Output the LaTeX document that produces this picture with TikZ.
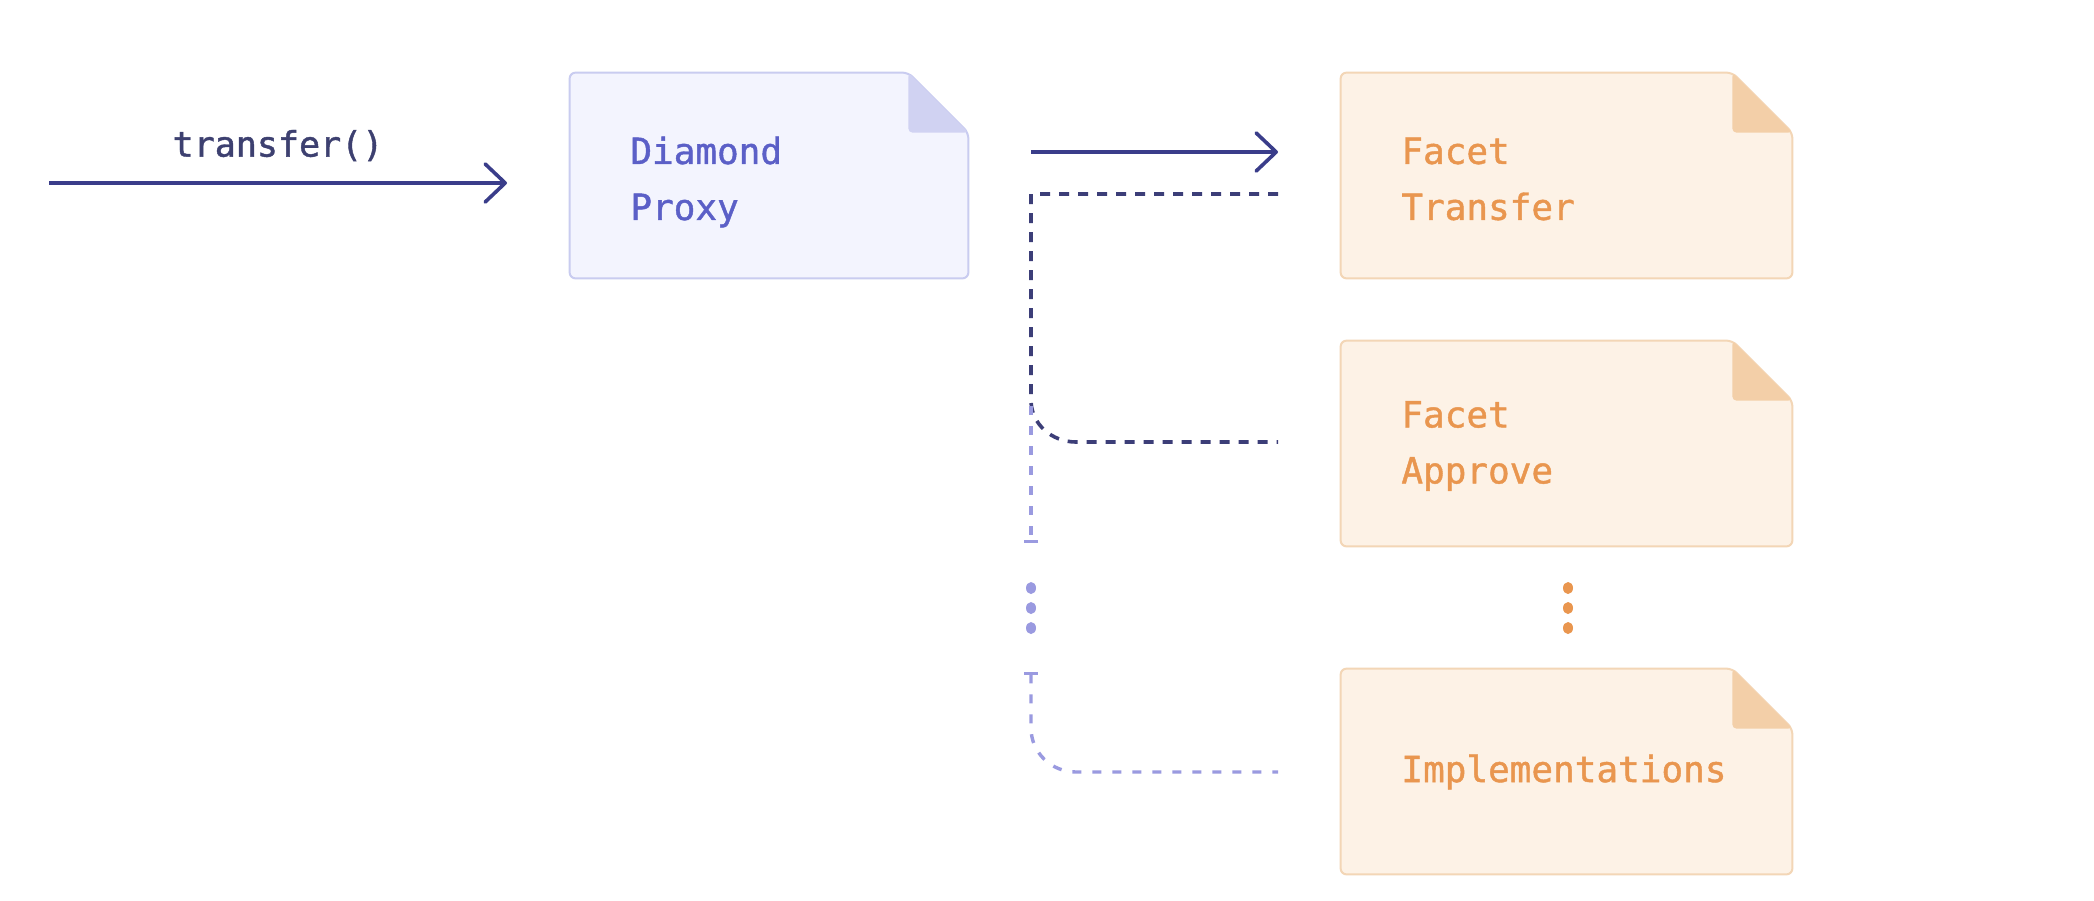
\documentclass[tikz,border=0pt]{standalone}
\usepackage{fontspec}
\newfontfamily\mfont{DejaVu Sans Mono}[FakeBold=1.2]
\usetikzlibrary{arrows.meta,calc,shapes.geometric}
\definecolor{navy}{HTML}{3A3D8A}
\definecolor{darkdash}{HTML}{3C3E78}
\definecolor{lightdash}{HTML}{9A9AE0}
\definecolor{dtext}{HTML}{5B5FC7}
\definecolor{dfill}{HTML}{F3F4FE}
\definecolor{dborder}{HTML}{C9CCF0}
\definecolor{dfold}{HTML}{D0D2F2}
\definecolor{ffill}{HTML}{FDF2E6}
\definecolor{fborder}{HTML}{F3D6B6}
\definecolor{ffold}{HTML}{F3CFA8}
\definecolor{otext}{HTML}{E9964F}
\definecolor{ttext}{HTML}{3D4070}
\tikzset{
  boxnode/.style={rectangle, draw=none, minimum width=#1, minimum height=102.5pt, inner sep=0pt},
  lbl/.style={font=\mfont\fontsize{18pt}{28pt}\selectfont, align=left, anchor=west, inner sep=0pt},
  solidarrow/.style={draw=navy, line width=1.8pt, -{Straight Barb[length=10pt,width=19pt,line width=1.8pt,round]}},
  darkdashed/.style={draw=darkdash, line width=1.8pt, dash pattern=on 5pt off 4.5pt},
  lightdashed/.style={draw=lightdash, line width=1.7pt, dash pattern=on 4.5pt off 5.5pt},
  dotstyle/.style={ellipse, inner sep=0pt, minimum width=5pt, minimum height=6pt},
}
\newcommand{\docshape}[4]{% node, fill, border, fold
  \path[fill=#2, draw=#3, line width=1pt, rounded corners=3pt]
    (#1.south west) -- (#1.north west) -- ([xshift=-30pt]#1.north east)
    -- ([yshift=-30pt]#1.north east) -- (#1.south east) -- cycle;
  \path[fill=#4, rounded corners=2pt]
    ([xshift=-30pt]#1.north east) -- ([xshift=-30pt,yshift=-30pt]#1.north east)
    -- ([yshift=-30pt]#1.north east) -- cycle;
}
\begin{document}
\begin{tikzpicture}[x=0.5pt,y=-0.5pt]
\useasboundingbox[fill=white] (0,0) rectangle (2094,900);

% boxes
\node[boxnode=199pt] (dp) at (769,175.5) {};
\node[boxnode=225.5pt] (ft) at (1566.5,175.5) {};
\node[boxnode=225.5pt] (fa) at (1566.5,443.5) {};
\node[boxnode=225.5pt] (im) at (1566.5,771.5) {};
\docshape{dp}{dfill}{dborder}{dfold}
\docshape{ft}{ffill}{fborder}{ffold}
\docshape{fa}{ffill}{fborder}{ffold}
\docshape{im}{ffill}{fborder}{ffold}

\node[lbl, text=dtext] (dpt) at (630,182) {Diamond\\Proxy};
\node[lbl, text=otext] (ftt) at (1401,179) {Facet\\Transfer};
\node[lbl, text=otext] (fat) at (1401,446) {Facet\\Approve};
\node[lbl, text=otext] (imt) at (1401,772) {Implementations};

% input arrow
\coordinate (in0) at (49,183);
\coordinate (in1) at (507,183);
\draw[solidarrow] (in0) -- (in1) node[midway, above=10pt, inner sep=0pt, font=\mfont\fontsize{17.5pt}{20pt}\selectfont, text=ttext] (tr) {transfer()};

% call to facet transfer
\coordinate (c0) at (1031,152);
\coordinate (c1) at (1278,152);
\draw[solidarrow] (c0) -- (c1);

% dark dashed
\coordinate (d0) at (1278,194);
\coordinate (d1) at (1031,194);
\coordinate (d2) at (1031,400);
\coordinate (d3) at (1076,442);
\coordinate (d4) at (1278,442);
\draw[darkdashed] (d0) -- (d1) -- (d2) to[out=-90,in=180] (d3) -- (d4);

% light dashed
\coordinate (l0) at (1031,406);
\coordinate (l1) at (1031,543);
\draw[lightdashed, -{Bar[width=7pt,line width=1.5pt]}] (l0) -- (l1);
\foreach \yy [count=\i] in {588,608,628}{
  \node[dotstyle, fill=lightdash] (ld\i) at (1031,\yy) {};
  \node[dotstyle, fill=otext] (od\i) at (1568,\yy) {};
}
\coordinate (l2) at (1031,672);
\coordinate (l3) at (1031,728);
\coordinate (l4) at (1076,772);
\coordinate (l5) at (1278,772);
\draw[lightdashed, {Bar[width=7pt,line width=1.5pt]}-] (l2) -- (l3) to[out=-90,in=180] (l4) -- (l5);
\end{tikzpicture}
\end{document}
